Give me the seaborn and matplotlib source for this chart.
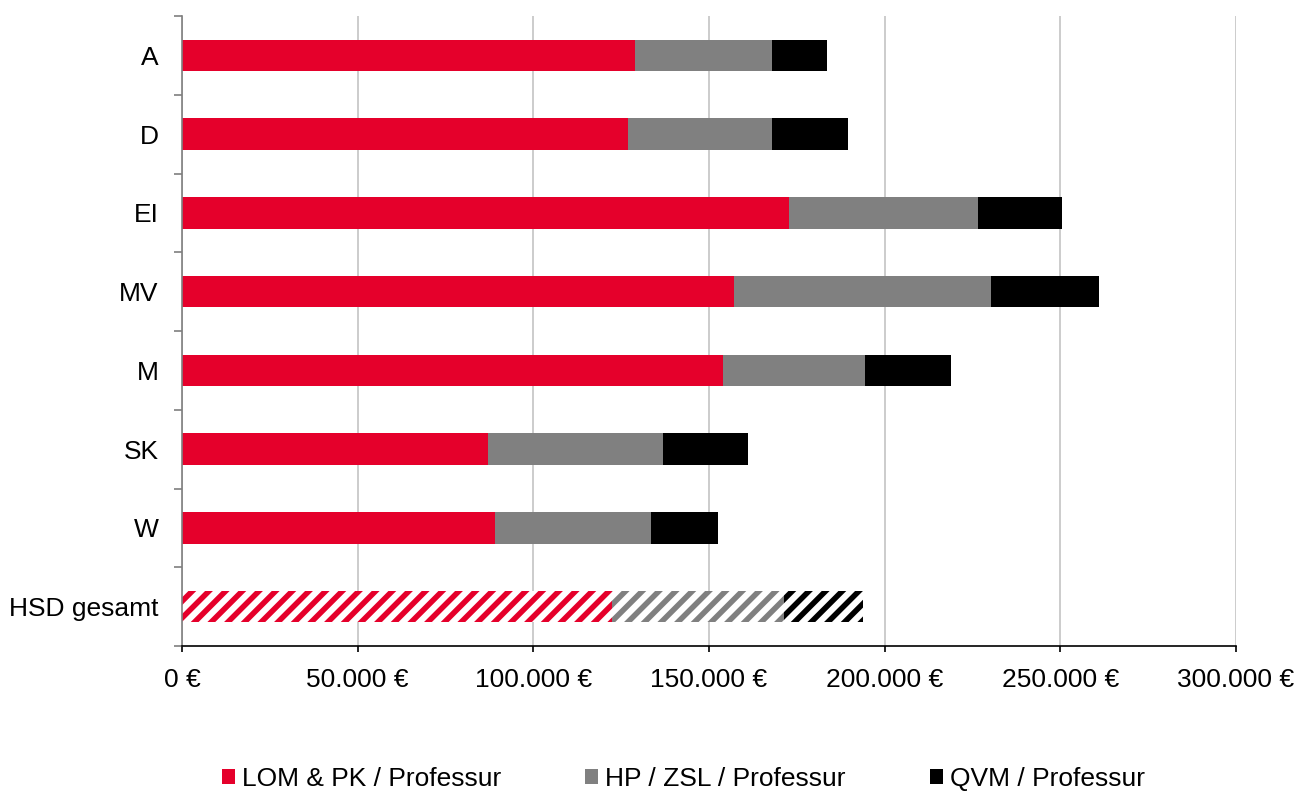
import matplotlib
matplotlib.use("Agg")
import matplotlib.pyplot as plt
import numpy as np
import pandas as pd
import seaborn as sns
from matplotlib.patches import Patch
from matplotlib.ticker import FixedLocator, FuncFormatter

# Budget per professorship by department (EUR)
categories = ["A", "D", "EI", "MV", "M", "SK", "W", "HSD gesamt"]
lom_pk = [128850, 126850, 172900, 157200, 153900, 87200, 89000, 122450]
hp_zsl = [39200, 41200, 53600, 73000, 40400, 49600, 44500, 48800]
qvm = [15550, 21550, 24100, 30800, 24600, 24300, 19200, 22550]
series_labels = ["LOM & PK / Professur", "HP / ZSL / Professur", "QVM / Professur"]
series_colors = ["#E5002B", "#808080", "#000000"]
x_ticks = [0, 50000, 100000, 150000, 200000, 250000, 300000]
total_label = "HSD gesamt"

sns.set_theme(style="white")
plt.rcParams["font.family"] = ["Liberation Sans", "DejaVu Sans"]
plt.rcParams["hatch.linewidth"] = 4.0
plt.rcParams["text.color"] = "black"
plt.rcParams["xtick.color"] = "black"
plt.rcParams["ytick.color"] = "black"
plt.rcParams["xtick.labelcolor"] = "black"
plt.rcParams["ytick.labelcolor"] = "black"
FS = 19

df = pd.DataFrame({"Bereich": categories, "LOM": lom_pk, "HP": hp_zsl, "QVM": qvm})
df["s1"] = df["LOM"]
df["s2"] = df["LOM"] + df["HP"]
df["s3"] = df["s2"] + df["QVM"]

fig = plt.figure(figsize=(12.99, 7.91), dpi=100)
ax = fig.add_axes([182 / 1299, 1 - 646 / 791, (1236 - 182) / 1299, (646 - 16) / 791])

# stacked bars drawn as cumulative layers, widest first
for col, color in zip(["s3", "s2", "s1"], series_colors[::-1]):
    sns.barplot(data=df, x=col, y="Bereich", order=categories, orient="h",
                color=color, saturation=1, width=0.4, errorbar=None,
                linewidth=0, ax=ax)

# hatched style for the overall row
total_idx = categories.index(total_label)
for p in ax.patches:
    yc = p.get_y() + p.get_height() / 2
    if abs(yc - total_idx) < 0.01:
        c = p.get_facecolor()
        p.set_facecolor("white")
        p.set_edgecolor(c)
        p.set_hatch("//")
        p.set_linewidth(0)

ax.set_xlim(0, 300000)
ax.set_ylim(len(categories) - 0.5, -0.5)
ax.set_xlabel("")
ax.set_ylabel("")

ax.xaxis.set_major_locator(FixedLocator(x_ticks))
ax.xaxis.set_major_formatter(FuncFormatter(lambda v, _: f"{int(v):,}".replace(",", ".") + " €"))
ax.yaxis.set_minor_locator(FixedLocator(np.arange(-0.5, len(categories), 1.0)))

ax.tick_params(axis="x", which="major", direction="out", length=4, width=1.2,
               color="black", labelcolor="black", labelsize=FS, pad=12, bottom=True)
ax.tick_params(axis="y", which="major", length=0, labelsize=FS, labelcolor="black", pad=17)
ax.tick_params(axis="y", which="minor", direction="out", length=6, width=1.2,
               color="#7f7f7f", left=True)

ax.xaxis.grid(True, color="#C4C4C4", linewidth=1.2)
ax.set_axisbelow(True)

for s in ["top", "right"]:
    ax.spines[s].set_visible(False)
ax.spines["left"].set_color("#7f7f7f")
ax.spines["left"].set_linewidth(1.2)
ax.spines["bottom"].set_color("black")
ax.spines["bottom"].set_linewidth(1.2)

handles = [Patch(facecolor=c, edgecolor="none") for c in series_colors]
fig.legend(handles, series_labels, loc="center", bbox_to_anchor=(0.526, 0.0152),
           ncol=3, frameon=False, handlelength=0.5, handleheight=0.5,
           handletextpad=0.25, columnspacing=3.2, fontsize=FS, labelcolor="black")

fig.savefig("out.png", dpi=100)
